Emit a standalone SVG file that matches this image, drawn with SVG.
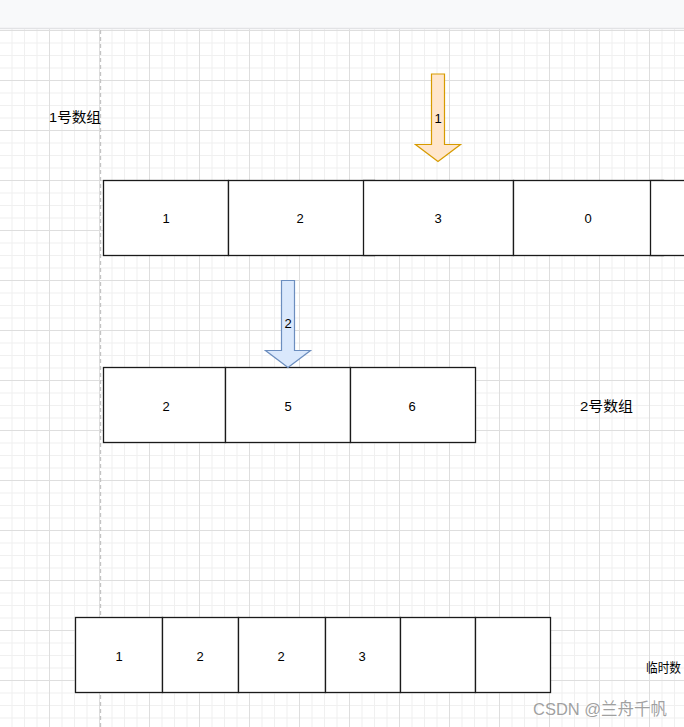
<svg xmlns="http://www.w3.org/2000/svg" width="684" height="727" viewBox="0 0 684 727">
<style>
.cell{fill:#ffffff;stroke:#1a1a1a;stroke-width:1.3}
.t{font-family:"Liberation Sans",Arial,"Noto Sans CJK SC",sans-serif;font-size:13px;fill:#000;text-anchor:middle;dominant-baseline:central}
.lbl{font-family:"Liberation Sans",Arial,"Noto Sans CJK SC",sans-serif;font-size:13.5px;fill:#000;dominant-baseline:central}
</style>
<defs>
<pattern id="grid" patternUnits="userSpaceOnUse" x="49" y="80" width="50" height="50">
<rect width="50" height="50" fill="#ffffff"/>
<g fill="#f0f0f0">
<rect x="12.5" y="0" width="1" height="50"/>
<rect x="25" y="0" width="1" height="50"/>
<rect x="37.5" y="0" width="1" height="50"/>
<rect x="0" y="12.5" width="50" height="1"/>
<rect x="0" y="25" width="50" height="1"/>
<rect x="0" y="37.5" width="50" height="1"/>
</g>
<g fill="#dedede">
<rect x="0" y="0" width="1" height="50"/>
<rect x="0" y="0" width="50" height="1"/>
</g>
</pattern>
</defs>
<rect x="0" y="0" width="684" height="727" fill="url(#grid)"/>
<rect x="0" y="0" width="684" height="28" fill="#f8f9fa"/>
<line x1="0" y1="28.5" x2="684" y2="28.5" stroke="#e2e3e5" stroke-width="1.5"/>
<line x1="100.5" y1="30" x2="100.5" y2="727" stroke="#c4c4c4" stroke-width="1.3" stroke-dasharray="4 3"/>

<text class="lbl" x="49" y="117" textLength="52" lengthAdjust="spacingAndGlyphs">1号数组</text>
<text class="lbl" x="580" y="406" textLength="53" lengthAdjust="spacingAndGlyphs">2号数组</text>
<text class="t" x="646" y="667" style="text-anchor:start" textLength="35" lengthAdjust="spacingAndGlyphs">临时数</text>

<g id="array1">
<g id="a1c1"><rect class="cell" x="103.5" y="180.5" width="125" height="75"/><text class="t" x="166" y="218">1</text></g>
<g id="a1c2"><rect class="cell" x="228.5" y="180.5" width="146" height="75"/><text class="t" x="300" y="218">2</text></g>
<g id="a1c3"><rect class="cell" x="363.5" y="180.5" width="150" height="75"/><text class="t" x="438" y="218">3</text></g>
<g id="a1c4"><rect class="cell" x="513.5" y="180.5" width="150" height="75"/><text class="t" x="588" y="218">0</text></g>
<g id="a1c5"><rect class="cell" x="650.5" y="180.5" width="150" height="75"/></g>
</g>

<g id="array2">
<g id="a2c1"><rect class="cell" x="103.5" y="367.5" width="122" height="75"/><text class="t" x="166" y="406">2</text></g>
<g id="a2c2"><rect class="cell" x="225.5" y="367.5" width="125" height="75"/><text class="t" x="288" y="406">5</text></g>
<g id="a2c3"><rect class="cell" x="350.5" y="367.5" width="125" height="75"/><text class="t" x="412" y="406">6</text></g>
</g>

<g id="temp">
<g id="tc1"><rect class="cell" x="75.5" y="617.5" width="87" height="75"/><text class="t" x="119" y="656">1</text></g>
<g id="tc2"><rect class="cell" x="162.5" y="617.5" width="76" height="75"/><text class="t" x="200" y="656">2</text></g>
<g id="tc3"><rect class="cell" x="238.5" y="617.5" width="87" height="75"/><text class="t" x="281" y="656">2</text></g>
<g id="tc4"><rect class="cell" x="325.5" y="617.5" width="75" height="75"/><text class="t" x="362" y="656">3</text></g>
<g id="tc5"><rect class="cell" x="400.5" y="617.5" width="75" height="75"/></g>
<g id="tc6"><rect class="cell" x="475.5" y="617.5" width="75" height="75"/></g>
</g>

<g id="connectors">
<g id="arrow1">
<polygon points="431.5,74 444.5,74 444.5,144.5 460.5,144.5 438,161.5 415.5,144.5 431.5,144.5" fill="#ffe6cc" stroke="#d79b00" stroke-width="1.2"/>
<text class="t" x="438" y="118">1</text>
</g>
<g id="arrow2">
<polygon points="281.5,280.5 294.5,280.5 294.5,350.5 310.5,350.5 288,367.5 265.5,350.5 281.5,350.5" fill="#dae8fc" stroke="#6c8ebf" stroke-width="1.2"/>
<text class="t" x="288" y="323">2</text>
</g>
</g>

<text x="533" y="715" font-family="'Liberation Sans',Arial,'Noto Sans CJK SC',sans-serif" font-size="16.5" fill="#8f8f8f" fill-opacity="0.85" textLength="134" lengthAdjust="spacingAndGlyphs">CSDN @兰舟千帆</text>
</svg>
